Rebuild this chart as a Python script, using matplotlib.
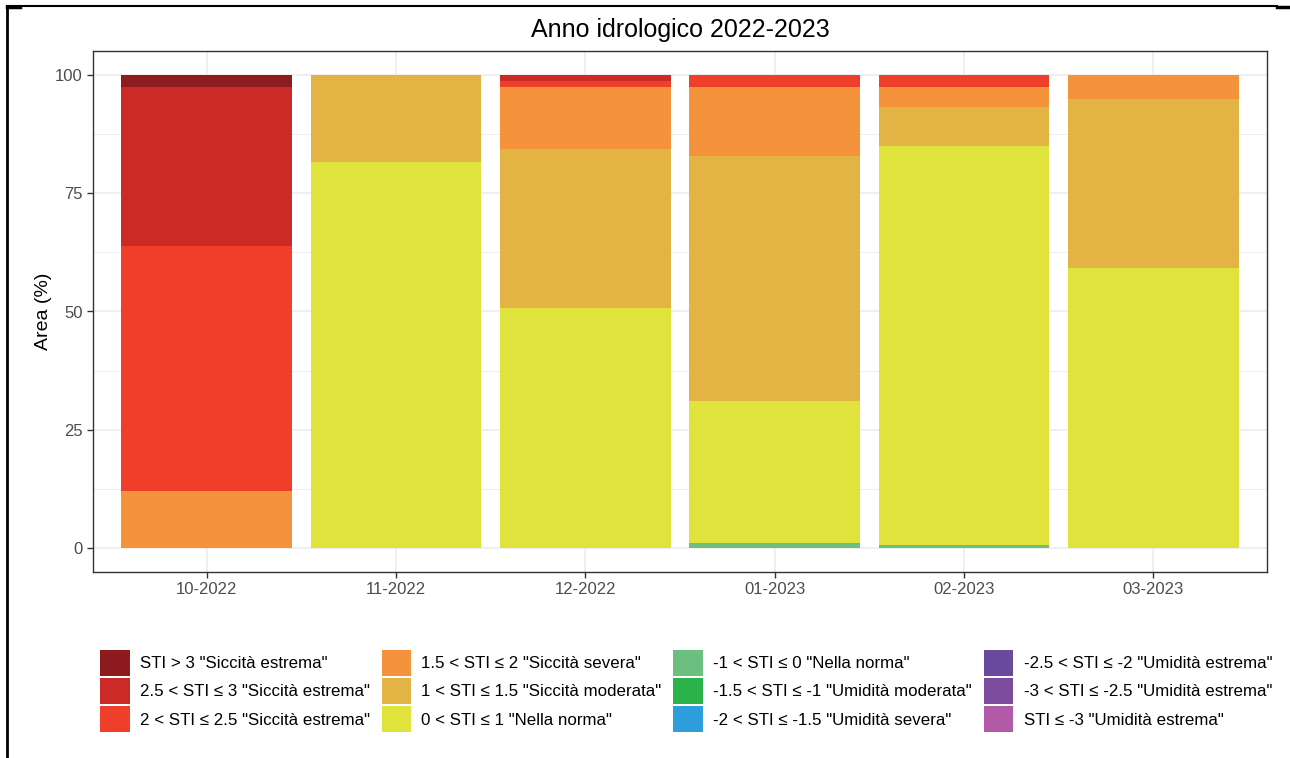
import matplotlib
matplotlib.use("Agg")
import matplotlib.pyplot as plt
from matplotlib.patches import Patch
from matplotlib.lines import Line2D
import numpy as np

plt.rcParams['font.family'] = ['Liberation Sans', 'DejaVu Sans']

months = ["10-2022", "11-2022", "12-2022", "01-2023", "02-2023", "03-2023"]

# classes from top of legend (top of stack) to bottom
classes = [
    'STI > 3 "Siccità estrema"',
    '2.5 < STI ≤ 3 "Siccità estrema"',
    '2 < STI ≤ 2.5 "Siccità estrema"',
    '1.5 < STI ≤ 2 "Siccità severa"',
    '1 < STI ≤ 1.5 "Siccità moderata"',
    '0 < STI ≤ 1 "Nella norma"',
    '-1 < STI ≤ 0 "Nella norma"',
    '-1.5 < STI ≤ -1 "Umidità moderata"',
    '-2 < STI ≤ -1.5 "Umidità severa"',
    '-2.5 < STI ≤ -2 "Umidità estrema"',
    '-3 < STI ≤ -2.5 "Umidità estrema"',
    'STI ≤ -3 "Umidità estrema"',
]
colors = ["#8e1b1e", "#cc2a27", "#ef3e2a", "#f5923c", "#e3b443", "#e0e33b",
          "#6dbf7f", "#2ab34a", "#2e9fdc", "#6a4a9c", "#7e4c9e", "#b25aa8"]

sti_gt3      = [2.5, 0.0, 0.0, 0.0, 0.0, 0.0]
sti_25_3     = [33.7, 0.0, 1.3, 0.0, 0.0, 0.0]
sti_2_25     = [51.8, 0.0, 1.3, 2.5, 2.5, 0.0]
sti_15_2     = [12.0, 0.0, 13.0, 14.7, 4.4, 5.2]
sti_1_15     = [0.0, 18.4, 33.7, 51.6, 8.1, 35.6]
sti_0_1      = [0.0, 81.6, 50.7, 30.0, 84.4, 59.2]
sti_m1_0     = [0.0, 0.0, 0.0, 1.2, 0.6, 0.0]
sti_m15_m1   = [0.0, 0.0, 0.0, 0.0, 0.0, 0.0]
sti_m2_m15   = [0.0, 0.0, 0.0, 0.0, 0.0, 0.0]
sti_m25_m2   = [0.0, 0.0, 0.0, 0.0, 0.0, 0.0]
sti_m3_m25   = [0.0, 0.0, 0.0, 0.0, 0.0, 0.0]
sti_le_m3    = [0.0, 0.0, 0.0, 0.0, 0.0, 0.0]

series = [sti_gt3, sti_25_3, sti_2_25, sti_15_2, sti_1_15, sti_0_1,
          sti_m1_0, sti_m15_m1, sti_m2_m15, sti_m25_m2, sti_m3_m25, sti_le_m3]

fig = plt.figure(figsize=(12.9, 7.58), dpi=100)
ax = fig.add_axes([93/1290, 1-572/758, (1267-93)/1290, (572-51)/758])

x = np.arange(1, len(months)+1)
bottom = np.zeros(len(months))
for vals, col in zip(series[::-1], colors[::-1]):
    v = np.array(vals)
    ax.bar(x, v, width=0.9, bottom=bottom, color=col, linewidth=0, zorder=3)
    bottom += v

ax.set_xlim(0.4, 6.6)
ax.set_ylim(-5, 105)
ax.set_xticks(x)
ax.set_xticklabels(months)
ax.set_yticks([0, 25, 50, 75, 100])
ax.set_yticks([12.5, 37.5, 62.5, 87.5], minor=True)
ax.tick_params(axis='both', which='major', length=4.5, width=1.0, color='#333333',
               labelcolor='#4d4d4d', labelsize=12, pad=3)
ax.tick_params(axis='y', which='minor', length=0)
ax.grid(True, which='major', color='#ebebeb', lw=1.1, zorder=0)
ax.grid(True, which='minor', axis='y', color='#ebebeb', lw=0.6, zorder=0)
for s in ax.spines.values():
    s.set_color('#333333')
    s.set_linewidth(1.0)

ax.set_ylabel("Area (%)", fontsize=14, color='black')
ax.yaxis.set_label_coords((52-93)/1174, 0.5)
ax.set_title("Anno idrologico 2022-2023", fontsize=18, color='black', pad=10)

handles = [Patch(facecolor=c, edgecolor='none') for c in colors]
fig.legend(handles, classes, ncol=4, loc='center', bbox_to_anchor=(686/1290, 1-691/758),
           frameon=False, fontsize=12.2, handlelength=1.75, handleheight=2.0,
           handletextpad=0.6, labelspacing=0.12, columnspacing=0.7,
           labelcolor='black')

# image frame lines
fig.add_artist(Line2D([7/1290, 7/1290], [0, 1-6/758], transform=fig.transFigure,
                      color='black', lw=2.0))
fig.add_artist(Line2D([7/1290, 1277/1290], [1-6/758, 1-6/758], transform=fig.transFigure,
                      color='black', lw=1.5))
fig.add_artist(Line2D([1277/1290, 1290/1290], [1-6.5/758, 1-6.5/758], transform=fig.transFigure,
                      color='black', lw=2.5))
fig.add_artist(Line2D([7/1290, 20/1290], [1-6.5/758, 1-6.5/758], transform=fig.transFigure,
                      color='black', lw=2.5))

fig.savefig("out.png", dpi=100, facecolor='white')
